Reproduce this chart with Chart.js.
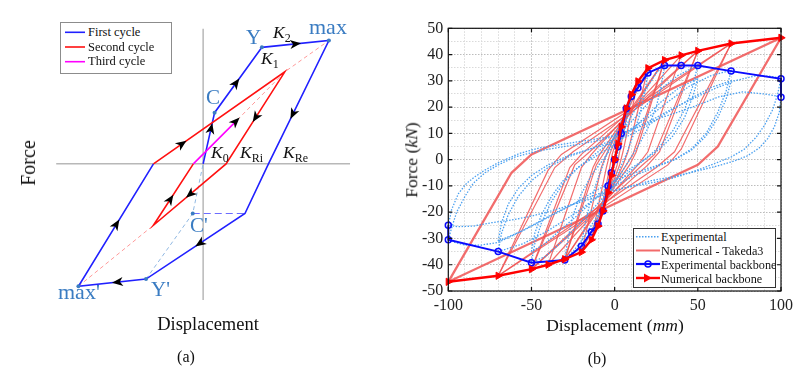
<!DOCTYPE html>
<html>
<head>
<meta charset="utf-8">
<script src="https://cdn.jsdelivr.net/npm/chart.js@4.4.1/dist/chart.umd.min.js"></script>
<style>
html, body { margin:0; padding:0; background:#fff; }
body { width:811px; height:380px; position:relative; overflow:hidden; font-family:"Liberation Serif","Times New Roman",serif; color:#111; }
canvas { position:absolute; top:0; }
.t { position:absolute; white-space:nowrap; line-height:1; }
.c { transform:translate(-50%,-50%); }
.rot { transform:translate(-50%,-50%) rotate(-90deg); }
.bl { color:#3a7cc2; font-size:21px; }
.k { font-style:italic; font-size:17.5px; color:#111; }
.k sub { font-style:normal; font-size:12px; vertical-align:-4px; }
.box { position:absolute; background:#fff; }
.lg { position:absolute; font-size:12.5px; line-height:1; white-space:nowrap; }
.lgb { position:absolute; font-size:12.2px; line-height:1; white-space:nowrap; }
</style>
</head>
<body>
<canvas id="ca" width="390" height="380" style="left:0"></canvas>
<canvas id="cb" width="421" height="380" style="left:390px"></canvas>

<!-- panel (a) legend -->
<div class="box" style="left:60px;top:22px;width:110px;height:50px;border:1px solid #8c8c8c;"></div>
<svg style="position:absolute;left:60px;top:22px" width="30" height="52">
  <line x1="5" x2="25" y1="10.3" y2="10.3" stroke="#2020ff" stroke-width="1.6"/>
  <line x1="5" x2="25" y1="25" y2="25" stroke="#ff1010" stroke-width="1.6"/>
  <line x1="5" x2="25" y1="39.7" y2="39.7" stroke="#ff00ff" stroke-width="1.6"/>
</svg>
<div class="lg" style="left:88px;top:26px">First cycle</div>
<div class="lg" style="left:88px;top:40.5px">Second cycle</div>
<div class="lg" style="left:88px;top:55px">Third cycle</div>

<!-- panel (a) labels -->
<div class="t bl" style="left:246px;top:27px">Y</div>
<div class="t bl" style="left:309px;top:16px;font-size:22px">max</div>
<div class="t bl" style="left:206px;top:87px">C</div>
<div class="t bl" style="left:190px;top:215px">C'</div>
<div class="t bl" style="left:151px;top:279px">Y'</div>
<div class="t bl" style="left:58px;top:281px;font-size:22px">max'</div>
<div class="t k" style="left:273px;top:24px">K<sub>2</sub></div>
<div class="t k" style="left:261px;top:50px">K<sub>1</sub></div>
<div class="t k" style="left:211px;top:144px">K<sub>0</sub></div>
<div class="t k" style="left:240px;top:144px">K<sub>Ri</sub></div>
<div class="t k" style="left:283px;top:144px">K<sub>Re</sub></div>
<div class="t rot" style="left:28px;top:163px;font-size:20px">Force</div>
<div class="t c" style="left:208px;top:324px;font-size:18.5px">Displacement</div>
<div class="t c" style="left:186px;top:357px;font-size:16px">(a)</div>

<!-- panel (b) legend -->
<div class="box" style="left:633px;top:228px;width:141px;height:58px;border:1.2px solid #333;"></div>
<svg style="position:absolute;left:633px;top:228px" width="30" height="60">
  <line x1="3" x2="27" y1="8.7" y2="8.7" stroke="#4aa0f0" stroke-width="1.4" stroke-dasharray="1.5 1.5"/>
  <line x1="3" x2="27" y1="22.5" y2="22.5" stroke="#f26a6a" stroke-width="2"/>
  <line x1="3" x2="27" y1="36" y2="36" stroke="#0a0aff" stroke-width="2.2"/>
  <circle cx="15" cy="36" r="3" fill="none" stroke="#0a0aff" stroke-width="1.5"/>
  <line x1="3" x2="27" y1="50" y2="50" stroke="#ff0000" stroke-width="2.4"/>
  <polygon points="19,50 11,45.5 11,54.5" fill="#ff0000"/>
</svg>
<div class="lgb" style="left:661px;top:231px">Experimental</div>
<div class="lgb" style="left:661px;top:245px">Numerical - Takeda3</div>
<div class="lgb" style="left:661px;top:258.5px">Experimental backbone</div>
<div class="lgb" style="left:661px;top:272.5px">Numerical backbone</div>

<!-- panel (b) titles -->
<div class="t rot" style="left:412px;top:160px;font-size:17.5px">Force (<i>kN</i>)</div>
<div class="t c" style="left:615px;top:326px;font-size:17.5px">Displacement (<i>mm</i>)</div>
<div class="t c" style="left:597px;top:359px;font-size:16px">(b)</div>

<script>
// ── PANEL (a): Takeda schematic, units measured from the axes origin ──
const axisVX = [0, 0],            axisVY = [138, -139];
const axisHX = [-150, 150],       axisHY = [0, 0];
const firstX  = [0, 11.7, 60, 128.4, 66.7, 42.7, -58.3, -127.3, -50.7];
const firstY  = [0, 52.3, 119, 126, 0, -50.7, -117.7, -125, 0];
const secondX = [-50.7, 83.4, 23.4, -50.7, -10];
const secondY = [0, 94, 0, -62.7, 0];
const thirdX  = [-10, 35];
const thirdY  = [0, 45];
const pinkAX  = [-127.3, -50.7],      pinkAY = [-125, -62.7];
const pinkBX  = [35, 83.4, 128.4],    pinkBY = [45, 94, 126];
const cPrimeX = [-58.3, -10.6, 0],    cPrimeY = [-117.7, -50.7, 0];
const flatX   = [-10.6, 42.7],        flatY  = [-50.7, -50.7];
const keyX    = [60, 128.4, 11.7, -10.6, -58.3, -127.3];
const keyY    = [119, 126, 52.3, -50.7, -117.7, -125];

// ── PANEL (b): hysteresis data (mm, kN) ──
const expBbX = [-100,-100,-70,-50,-30,-20,-14,-10,-7,-4,-2,0,2,4,7,10,14,20,30,40,50,70,100,100];
const expBbY = [-25,-30.5,-35,-39.2,-38.2,-33,-27.5,-24.5,-19.5,-10,-5,0,5,10,19.5,24,27.4,33,35.8,35.8,35.8,33.7,30.8,23.8];
const numBbX = [-100,-70,-50,-40,-30,-20,-14,-10,-7,-4,-2,0,2,4,7,10,14,20,30,40,50,70,100];
const numBbY = [-46.5,-44.2,-41.7,-40,-37.9,-35.2,-30.5,-25.3,-19.5,-12.5,-6,0,6,12.5,19.5,24.8,29.8,34.8,37.9,39.7,41.4,44.2,46.4];

const exp100aX = [-100,-98,-95,-90,-85,-78,-70,-60,-48,-35,-20,-8,0,10,22,35,48,60,72,84,93,100, 98,95,90,85,78,70,62,54,45,35,25,12,0,-10,-22,-35,-48,-60,-70,-80,-90,-96,-100];
const exp100aY = [-30.5,-26,-20,-14,-9,-5,-2,1,3,4.5,6,7.5,9,11.5,15,19.5,23.5,27,30,31.8,31.8,31, 25,19,13,8.5,4,1,-1,-3,-5,-7,-8.5,-10,-11.5,-13,-16,-20,-24.5,-28.5,-31.5,-32.5,-32.5,-31.5,-30.5];
const exp100bX = [-100,-98,-94,-89,-84,-78,-71,-64,-57,-45,-30,-15,-5,5,15,28,40,51,63,77,90,100, 99,96,92,87,80,72,64,55,45,35,22,10,0,-12,-25,-38,-50,-62,-74,-85,-94,-100];
const exp100bY = [-25,-19,-13,-9,-6.5,-4,-1.5,0.5,2.4,4.5,6,7.5,8.5,10,12.5,16,18.5,21,24,25.8,25,24, 18,12.5,8,4.5,1.5,-0.5,-2,-3.5,-5,-6.5,-8,-10,-12,-14.5,-17,-19.5,-21.5,-23,-24,-25.3,-25.5,-25];
const exp70X  = [-70,-68,-64,-58,-50,-40,-28,-15,-3,8,20,32,45,58,70, 67,62,55,46,36,24,12,0,-12,-25,-40,-55,-70];
const exp70Y  = [-35,-28,-21,-14,-8,-3,1,4,7,11,16,22,28,32,34, 26,18,10,4,0,-3,-6,-10,-15,-21,-27,-32,-35];
const exp70bX = [-70,-68,-64,-58,-50,-40,-28,-15,-3,8,20,32,45,58,70, 67,62,55,46,36,24,12,0,-12,-25,-40,-55,-70];
const exp70bY = [-31,-24,-17,-11,-6,-2,1.5,4,6,9,13,18,23,27.5,30, 23,16,9,3.5,0,-2.5,-5,-8,-12,-17,-22,-27,-31];
const exp50X  = [-50,-48,-44,-38,-31,-22,-12,-2,8,18,28,38,50, 47,42,35,27,18,8,-2,-12,-22,-33,-42,-50];
const exp50Y  = [-39,-32,-24,-16,-9,-3,2,7,13,20,27,32,36, 28,19,11,5,0,-5,-11,-18,-25,-32,-37,-39];
const exp50bX = [-50,-48,-44,-38,-31,-22,-12,-2,8,18,28,38,50, 47,42,35,27,18,8,-2,-12,-22,-33,-42,-50];
const exp50bY = [-35,-28,-21,-14,-8,-3,1,5,10,16,22,27,31, 24,16,9,4,0,-4,-9,-15,-21,-27,-32,-35];
const exp30X  = [-30,-28,-25,-20,-14,-7,0,7,14,20,25,30, 28,25,20,14,8,2,-5,-12,-19,-25,-30];
const exp30Y  = [-38,-30,-21,-13,-6,0,6,13,21,28,33,35.8, 28,20,12,5,-1,-7,-15,-23,-30,-35,-38];
const exp20X  = [-20,-18,-15,-11,-7,-3,2,7,12,16,20, 18,15,11,7,2,-3,-8,-13,-17,-20];
const exp20Y  = [-33,-25,-17,-9,-2,5,12,19,25,30,33, 25,17,9,2,-5,-12,-19,-26,-30,-33];
const exp10X  = [-10,-8,-5,-2,1,4,7,10, 8,5,2,-1,-4,-7,-10];
const exp10Y  = [-24.5,-18,-11,-4,3,10,17,24, 17,10,3,-4,-11,-18,-24.5];

const tk100X = [-100,-62,-50,100,62,50,-100], tk100Y = [-46.5,-5,2,46.4,5,-2,-46.5];
const tk70X  = [-70,-40,-32,70,40,32,-70],    tk70Y  = [-44.2,-4,2,44.2,4,-2,-44.2];
const tk70bX = [-70,-36,-25,70,36,25,-70],    tk70bY = [-44.2,-3,3,44.2,3,-3,-44.2];
const tk50X  = [-50,-27,-20,50,27,20,-50],    tk50Y  = [-41.7,-3,2,41.4,3,-2,-41.7];
const tk50bX = [-50,-24,-15,50,24,15,-50],    tk50bY = [-41.7,-2,3,41.4,2,-3,-41.7];
const tk40X  = [-40,-20,-14,40,20,14,-40],    tk40Y  = [-40,-3,2,39.7,3,-2,-40];
const tk30X  = [-30,-13,-9,30,13,9,-30],      tk30Y  = [-37.9,-3,2,37.9,3,-2,-37.9];
const tk30bX = [-30,-11,-6,30,11,6,-30],      tk30bY = [-37.9,-2,3,37.9,2,-3,-37.9];
const tk20X  = [-20,-8,-5,20,8,5,-20],        tk20Y  = [-35.2,-3,2,34.8,3,-2,-35.2];
const tk14X  = [-14,-5,-3,14,5,3,-14],        tk14Y  = [-30.5,-3,2,29.8,3,-2,-30.5];
const tk10X  = [-10,-3,-1.5,10,3,1.5,-10],    tk10Y  = [-25.3,-3,2,24.8,3,-2,-25.3];

const pts = (xs, ys) => xs.map((x, i) => ({ x, y: ys[i] }));

// ── chart (a) ──
const lineDs = (xs, ys, color, width, order, dash) => ({
  data: pts(xs, ys), showLine: true, borderColor: color, borderWidth: width,
  borderDash: dash || [], pointRadius: 0, order, tension: 0
});
const dsA = [
  lineDs(axisVX, axisVY, '#b8b8b8', 1.5, 10),
  lineDs(axisHX, axisHY, '#b8b8b8', 1.5, 10),
  lineDs(pinkAX, pinkAY, '#ff9a9a', 1, 6, [4, 3]),
  lineDs(pinkBX, pinkBY, '#ff9a9a', 1, 6, [4, 3]),
  lineDs(cPrimeX, cPrimeY, '#90b8e2', 1, 6, [4, 3]),
  lineDs(flatX, flatY, '#6c6cff', 1.2, 6, [7, 4]),
  lineDs(firstX, firstY, '#2020ff', 1.6, 3),
  lineDs(secondX, secondY, '#ff1010', 1.6, 2),
  lineDs(thirdX, thirdY, '#ff00ff', 1.6, 1),
  { data: pts(keyX, keyY), showLine: false, pointRadius: 2, pointBackgroundColor: '#3a7cc2', pointBorderWidth: 0, order: 0 }
];
const FIRST = 6, SECOND = 7, THIRD = 8;
const arrowMarks = [
  [FIRST,0,0.7],[FIRST,1,0.46],[FIRST,2,0.51],[FIRST,3,0.6],[FIRST,5,0.46],[FIRST,6,0.43],[FIRST,7,0.51],
  [SECOND,0,0.22],[SECOND,1,0.5],[SECOND,2,0.5],[SECOND,3,0.43],[THIRD,0,0.97]
];
const arrowPlugin = {
  id: 'arrows',
  afterDatasetsDraw(chart) {
    const ctx = chart.ctx;
    arrowMarks.forEach(([ds, seg, t]) => {
      const p = chart.getDatasetMeta(ds).data;
      const a = p[seg], b = p[seg + 1];
      const x = a.x + (b.x - a.x) * t, y = a.y + (b.y - a.y) * t;
      ctx.save();
      ctx.translate(x, y);
      ctx.rotate(Math.atan2(b.y - a.y, b.x - a.x));
      ctx.beginPath();
      ctx.moveTo(5, 0); ctx.lineTo(-6, -4.5); ctx.lineTo(-3, 0); ctx.lineTo(-6, 4.5); ctx.closePath();
      ctx.fillStyle = '#000'; ctx.fill();
      ctx.restore();
    });
  }
};
new Chart(document.getElementById('ca'), {
  type: 'scatter',
  data: { datasets: dsA },
  options: {
    responsive: false, animation: false,
    layout: { padding: 0 },
    plugins: { legend: { display: false }, tooltip: { enabled: false } },
    scales: {
      x: { display: false, min: -203.3, max: 186.7 },
      y: { display: false, min: -216.7, max: 163.3 }
    }
  },
  plugins: [arrowPlugin]
});

// ── chart (b) ──
const expC = '#4aa0f0', tkC = 'rgba(240,84,84,0.85)';
const loop = (xs, ys, color, width, dash, order) => ({
  data: pts(xs, ys), showLine: true, borderColor: color, borderWidth: width,
  borderDash: dash, pointRadius: 0, order, tension: 0
});
const dotted = [1.5, 1.5];
const dsB = [
  { data: pts(numBbX, numBbY), showLine: true, borderColor: '#ff0000', borderWidth: 2.4,
    pointStyle: 'triangle', rotation: 90, pointRadius: 4.2, pointBackgroundColor: '#ff0000',
    pointBorderColor: '#ff0000', pointBorderWidth: 1, order: 0, clip: false },
  { data: pts(expBbX, expBbY), showLine: true, borderColor: '#0a0aff', borderWidth: 2,
    pointStyle: 'circle', pointRadius: 3, pointBackgroundColor: 'rgba(0,0,0,0)',
    pointBorderColor: '#0a0aff', pointBorderWidth: 1.5, order: 1, clip: false },
  loop(exp100aX, exp100aY, expC, 1.3, dotted, 2),
  loop(exp100bX, exp100bY, expC, 1.3, dotted, 2),
  loop(exp70X, exp70Y, expC, 1.3, dotted, 2),
  loop(exp70bX, exp70bY, expC, 1.3, dotted, 2),
  loop(exp50X, exp50Y, expC, 1.3, dotted, 2),
  loop(exp50bX, exp50bY, expC, 1.3, dotted, 2),
  loop(exp30X, exp30Y, expC, 1.3, dotted, 2),
  loop(exp20X, exp20Y, expC, 1.3, dotted, 2),
  loop(exp10X, exp10Y, expC, 1.3, dotted, 2),
  loop(tk100X, tk100Y, tkC, 2.3, [], 3),
  loop(tk70X, tk70Y, tkC, 1.2, [], 3),
  loop(tk70bX, tk70bY, tkC, 1.2, [], 3),
  loop(tk50X, tk50Y, tkC, 1.2, [], 3),
  loop(tk50bX, tk50bY, tkC, 1.2, [], 3),
  loop(tk40X, tk40Y, tkC, 1.2, [], 3),
  loop(tk30X, tk30Y, tkC, 1.2, [], 3),
  loop(tk30bX, tk30bY, tkC, 1.2, [], 3),
  loop(tk20X, tk20Y, tkC, 1.2, [], 3),
  loop(tk14X, tk14Y, tkC, 1.2, [], 3),
  loop(tk10X, tk10Y, tkC, 1.2, [], 3)
];
const framePlugin = {
  id: 'frame',
  afterDatasetsDraw(chart) {
    const { ctx, chartArea: a, scales } = chart;
    ctx.save();
    ctx.strokeStyle = '#111'; ctx.lineWidth = 1.2;
    ctx.strokeRect(a.left, a.top, a.right - a.left, a.bottom - a.top);
    ctx.beginPath();
    scales.x.ticks.forEach(t => {
      if (t.value % 50 !== 0) return;
      const x = scales.x.getPixelForValue(t.value);
      ctx.moveTo(x, a.top); ctx.lineTo(x, a.top + 4);
      ctx.moveTo(x, a.bottom); ctx.lineTo(x, a.bottom - 4);
    });
    scales.y.ticks.forEach(t => {
      if (t.value % 10 !== 0) return;
      const y = scales.y.getPixelForValue(t.value);
      ctx.moveTo(a.left, y); ctx.lineTo(a.left + 4, y);
      ctx.moveTo(a.right, y); ctx.lineTo(a.right - 4, y);
    });
    ctx.stroke();
    ctx.restore();
  }
};
const tickFont = { family: '"Liberation Serif", "Times New Roman", serif', size: 16 };
new Chart(document.getElementById('cb'), {
  type: 'scatter',
  data: { datasets: dsB },
  options: {
    responsive: false, animation: false,
    layout: { padding: { top: 28.3, right: 30, left: 0, bottom: 0 } },
    plugins: { legend: { display: false }, tooltip: { enabled: false } },
    scales: {
      x: {
        min: -100, max: 100,
        afterFit: s => { s.height = 89; },
        ticks: { stepSize: 10, autoSkip: false, maxRotation: 0, padding: 5, color: '#222', font: tickFont,
                 callback: v => (v % 50 === 0 ? v : '') },
        grid: { drawTicks: false, color: c => (c.tick && c.tick.value % 50 === 0 ? '#bcbcbc' : '#dadada'), lineWidth: 1 },
        border: { display: false, dash: [1.5, 1.5] }
      },
      y: {
        min: -50, max: 50,
        afterFit: s => { s.width = 58.3; },
        ticks: { stepSize: 5, autoSkip: false, padding: 5, color: '#222', font: tickFont,
                 callback: v => (v % 10 === 0 ? v : '') },
        grid: { drawTicks: false, color: c => (c.tick && c.tick.value % 10 === 0 ? '#bcbcbc' : '#dadada'), lineWidth: 1 },
        border: { display: false, dash: [1.5, 1.5] }
      }
    }
  },
  plugins: [framePlugin]
});
</script>
</body>
</html>
